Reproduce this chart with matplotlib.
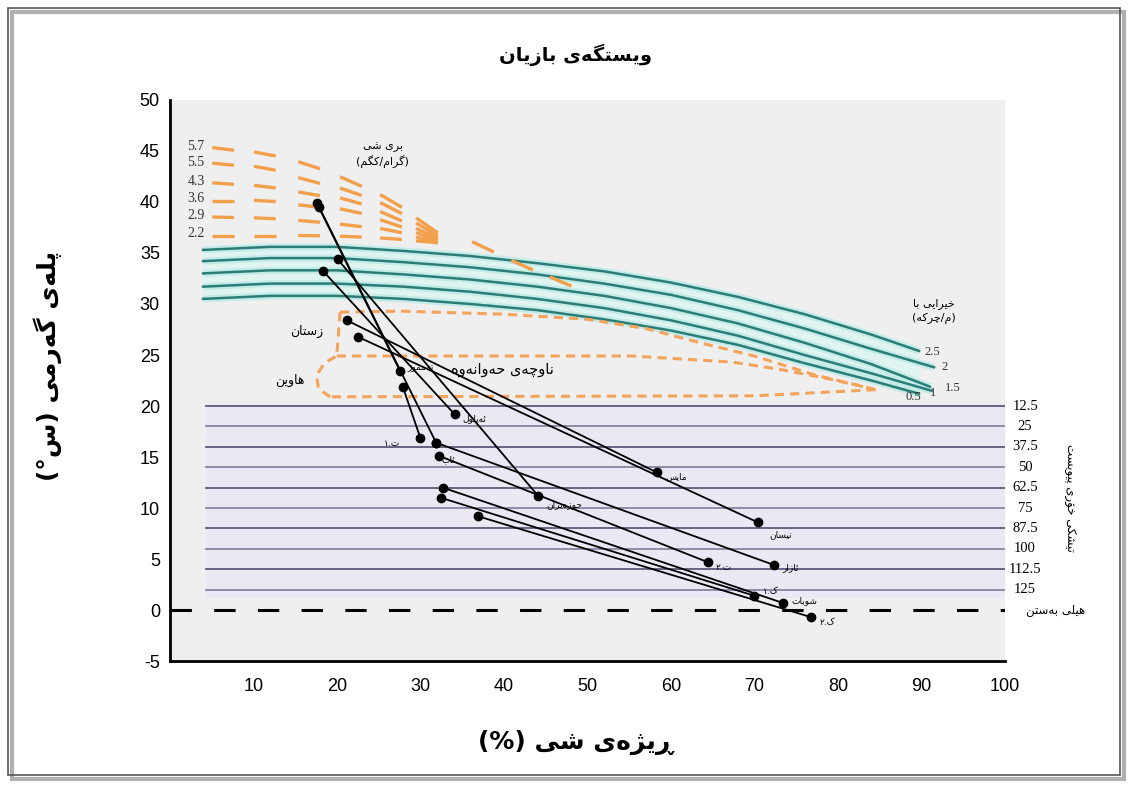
import numpy as np
import matplotlib.pyplot as plt
from matplotlib.patches import Rectangle

plt.rcParams['axes.unicode_minus'] = False

# ---- data ----
# wind speed (evaporative cooling) curves, m/s
wind_labels = ['2.5', '2', '1.5', '1', '0.5']
wind_x = [
    [4, 12, 20, 28, 36, 44, 52, 60, 68, 76, 84, 89.7],
    [4, 12, 20, 28, 36, 44, 52, 60, 68, 76, 84, 91.5],
    [4, 12, 20, 28, 36, 44, 52, 60, 68, 76, 84, 91.0],
    [4, 12, 20, 28, 36, 44, 52, 60, 68, 76, 84, 91.2],
    [4, 12, 20, 28, 36, 44, 52, 60, 68, 76, 84, 89.7],
]
wind_y = [
    [35.3, 35.6, 35.6, 35.2, 34.7, 34.0, 33.2, 32.1, 30.7, 29.0, 27.0, 25.4],
    [34.2, 34.5, 34.5, 34.1, 33.6, 32.9, 32.0, 30.9, 29.4, 27.6, 25.6, 23.8],
    [33.0, 33.3, 33.3, 32.9, 32.4, 31.7, 30.8, 29.6, 28.1, 26.2, 24.1, 21.9],
    [31.7, 32.0, 32.0, 31.7, 31.2, 30.5, 29.6, 28.4, 26.9, 25.0, 23.2, 21.5],
    [30.5, 30.8, 30.8, 30.5, 30.0, 29.4, 28.5, 27.4, 26.0, 24.2, 22.5, 21.2],
]

# moisture needed (g/kg)
moist_labels = ['5.7', '5.5', '4.3', '3.6', '2.9', '2.2']
moist_x = [6.4, 11.4, 16.7, 21.7, 26.5, 30.8]
moist_y = [
    [45.2, 44.7, 43.6, 42.0, 40.1, 37.7],
    [43.7, 43.3, 42.1, 41.0, 39.4, 37.3],
    [41.8, 41.5, 40.8, 40.1, 38.6, 36.9],
    [40.1, 40.1, 39.6, 39.1, 37.9, 36.6],
    [38.5, 38.4, 38.1, 37.7, 37.2, 36.3],
    [36.7, 36.7, 36.7, 36.6, 36.4, 36.1],
]
moist_tail_x = [37.5, 42.2, 46.8]
moist_tail_y = [35.6, 33.8, 32.2]

# radiation needed lines
rad_y = [20, 18, 16, 14, 12, 10, 8, 6, 4, 2]
rad_labels = ['12.5', '25', '37.5', '50', '62.5', '75', '87.5', '100', '112.5', '125']

# comfort zone outline
comfort_top_x = [20.4, 27.6, 40, 50, 57, 63.5, 70, 77.4, 82.6, 84.5]
comfort_top_y = [29.2, 29.3, 29.0, 28.5, 27.6, 26.2, 24.9, 23.0, 22.0, 21.6]
comfort_mid_x = [20.0, 40, 55.4, 67.4, 73, 79.3, 84.5]
comfort_mid_y = [24.9, 24.9, 24.9, 24.3, 23.6, 22.6, 21.6]
comfort_bot_x = [84.5, 70, 19.2]
comfort_bot_y = [21.6, 21.0, 20.9]
summer_arc_x = [19.2, 17.8, 17.6, 18.5, 20.0]
summer_arc_y = [20.9, 21.7, 23.0, 24.2, 24.9]

# monthly lines: (RH at Tmax, Tmax) -> (RH at Tmin, Tmin)
months = ['تەمموز', 'ئاب', 'حوزەیران', 'ئەیلول', 'مایس', 'نیسان',
          'ت.١', 'ئازار', 'ت.٢', 'شوبات', 'ک.١', 'ک.٢']
rh_hi_t = [17.6, 17.9, 20.1, 18.4, 21.2, 22.5, 27.9, 31.9, 32.3, 32.7, 32.5, 36.9]
t_max = [39.9, 39.5, 34.4, 33.2, 28.4, 26.8, 21.9, 16.4, 15.1, 12.0, 11.0, 9.2]
rh_lo_t = [27.6, 31.9, 44.1, 34.1, 58.3, 70.4, 30.0, 72.4, 64.4, 73.4, 70.0, 76.8]
t_min = [23.4, 16.4, 11.2, 19.2, 13.5, 8.6, 16.9, 4.4, 4.7, 0.7, 1.4, -0.7]
label_off = [(5, 3), (4, -12), (6, -6), (6, -3), (6, -3), (8, -9),
             (-26, -4), (6, -2), (6, -4), (6, 2), (6, 3), (6, -4)]

# ---- simple Arabic-script shaping (matplotlib has no shaping/bidi) ----
FORMS = {
    'ا': ('\uFE8D', '\uFE8E', None, None),
    'آ': ('\uFE81', '\uFE82', None, None),
    'ب': ('\uFE8F', '\uFE90', '\uFE91', '\uFE92'),
    'ت': ('\uFE95', '\uFE96', '\uFE97', '\uFE98'),
    'ج': ('\uFE9D', '\uFE9E', '\uFE9F', '\uFEA0'),
    'ح': ('\uFEA1', '\uFEA2', '\uFEA3', '\uFEA4'),
    'خ': ('\uFEA5', '\uFEA6', '\uFEA7', '\uFEA8'),
    'د': ('\uFEA9', '\uFEAA', None, None),
    'ر': ('\uFEAD', '\uFEAE', None, None),
    'ڕ': ('\u0695', '\uFEAE', None, None),
    'ز': ('\uFEAF', '\uFEB0', None, None),
    'ژ': ('\uFB8A', '\uFB8B', None, None),
    'س': ('\uFEB1', '\uFEB2', '\uFEB3', '\uFEB4'),
    'ش': ('\uFEB5', '\uFEB6', '\uFEB7', '\uFEB8'),
    'ع': ('\uFEC9', '\uFECA', '\uFECB', '\uFECC'),
    'ف': ('\uFED1', '\uFED2', '\uFED3', '\uFED4'),
    'ق': ('\uFED5', '\uFED6', '\uFED7', '\uFED8'),
    'ل': ('\uFEDD', '\uFEDE', '\uFEDF', '\uFEE0'),
    'ڵ': ('\u06B5', '\uFEDE', '\uFEDF', '\uFEE0'),
    'م': ('\uFEE1', '\uFEE2', '\uFEE3', '\uFEE4'),
    'ن': ('\uFEE5', '\uFEE6', '\uFEE7', '\uFEE8'),
    'ه': ('\uFEE9', '\uFEEA', '\uFEEB', '\uFEEC'),
    'ە': ('\u06D5', '\uFEEA', None, None),
    'و': ('\uFEED', '\uFEEE', None, None),
    'ۆ': ('\uFBD9', '\uFBDA', None, None),
    'ئ': ('\uFE89', '\uFE8A', '\uFE8B', '\uFE8C'),
    'پ': ('\uFB56', '\uFB57', '\uFB58', '\uFB59'),
    'چ': ('\uFB7A', '\uFB7B', '\uFB7C', '\uFB7D'),
    'ک': ('\uFB8E', '\uFB8F', '\uFB90', '\uFB91'),
    'گ': ('\uFB92', '\uFB93', '\uFB94', '\uFB95'),
    'ی': ('\uFBFC', '\uFBFD', '\uFBFE', '\uFBFF'),
    'ێ': ('\u06CE', '\uFBFD', '\uFBFE', '\uFBFF'),
}
MIRROR = {'(': ')', ')': '('}


def rtl(text):
    lines = []
    for s in text.split('\n'):
        out = []
        for i, c in enumerate(s):
            if c not in FORMS:
                out.append(c)
                continue
            prev = s[i - 1] if i > 0 else ''
            nxt = s[i + 1] if i + 1 < len(s) else ''
            jp = prev in FORMS and FORMS[prev][2] is not None
            jn = FORMS[c][2] is not None and nxt in FORMS
            f = FORMS[c]
            if jp and jn:
                out.append(f[3])
            elif jp:
                out.append(f[1])
            elif jn:
                out.append(f[2])
            else:
                out.append(f[0])
        lines.append(''.join(MIRROR.get(c, c) for c in reversed(out)))
    return '\n'.join(lines)


AR = ['DejaVu Sans']
SERIF = ['Liberation Serif', 'DejaVu Serif']

fig = plt.figure(figsize=(11.28, 7.87), dpi=100)
ax = fig.add_axes([0.1504, 0.160, 0.7406, 0.713])
ax.set_xlim(0, 100)
ax.set_ylim(-5, 50)
ax.set_facecolor('#efefef')

# radiation band
ax.fill_between([4.3, 100], 1.2, 20, color='#ebe7f3', zorder=0.5, lw=0)
for i, (y, lab) in enumerate(zip(rad_y, rad_labels)):
    ax.plot([4.3, 100], [y, y], color='#5f5878' if i % 2 == 0 else '#8a84a0',
            lw=1.3, zorder=1)
    ax.text(102.4, y, lab, ha='center', va='center', fontsize=10.5,
            family=SERIF, clip_on=False)
ax.text(107.8, 11, rtl('تیشکی خۆری پێویست'), rotation=270, ha='center',
        va='center', fontsize=8.5, family=AR, clip_on=False)

# freezing line
ax.plot([0, 100], [0, 0], color='black', lw=2.2, ls=(0, (7, 7.3)), zorder=2)
ax.text(106, 0, rtl('هێڵی بەستن'), ha='center', va='center', fontsize=8.5,
        family=AR, clip_on=False)

# wind curves
poly_x = np.r_[wind_x[0], wind_x[-1][::-1]]
poly_y = np.r_[wind_y[0], wind_y[-1][::-1]]
ax.fill(poly_x, poly_y, color='#e0f4f1', zorder=1, lw=0)
for xs, ys in zip(wind_x, wind_y):
    ax.plot(xs, ys, color='#c3ebe7', lw=5, zorder=2, solid_capstyle='butt')
    ax.plot(xs, ys, color='#2b7d77', lw=1.8, zorder=3)
wind_lab_pos = [(91.3, 25.3), (92.8, 23.8), (93.7, 21.8), (91.4, 21.3), (89.0, 20.9)]
for lab, (lx, ly) in zip(wind_labels, wind_lab_pos):
    ax.text(lx, ly, lab, ha='center', va='center', fontsize=9, family=SERIF,
            color='#333333', zorder=6)
ax.text(91.5, 29.3, rtl('خێرایی با\n(م/چرکە)'), ha='center', va='center',
        fontsize=8, family=AR, linespacing=1.5)

# comfort zone
cz = dict(color='#f3a45a', lw=2.2, ls=(0, (3, 2)), zorder=4)
ax.plot(comfort_top_x, comfort_top_y, **cz)
ax.plot(comfort_mid_x, comfort_mid_y, **cz)
ax.plot(comfort_bot_x, comfort_bot_y, **cz)
ax.plot(summer_arc_x, summer_arc_y, **cz)
ax.plot([comfort_top_x[0], comfort_mid_x[0]], [comfort_top_y[0], comfort_mid_y[0]], **cz)
ax.text(16.4, 27.3, rtl('زستان'), ha='center', va='center', fontsize=9, family=AR)
ax.text(14.4, 22.5, rtl('هاوین'), ha='center', va='center', fontsize=9, family=AR)
ax.text(39.8, 23.6, rtl('ناوچەی حەوانەوە'), ha='center', va='center',
        fontsize=10.5, family=AR, zorder=7)

# moisture dashes
half = 1.3
for lab, ys in zip(moist_labels, moist_y):
    slope = np.gradient(ys, moist_x)
    for x0, y0, s in zip(moist_x, ys, slope):
        ax.plot([x0 - half, x0 + half], [y0 - s * half, y0 + s * half],
                color='#f2a04c', lw=2.4, solid_capstyle='butt', zorder=5)
    ax.text(4.2, ys[0] + 0.2, lab, ha='right', va='center', fontsize=10,
            family=SERIF, color='#333333')
tslope = np.gradient(moist_tail_y, moist_tail_x)
for x0, y0, s in zip(moist_tail_x, moist_tail_y, tslope):
    ax.plot([x0 - half, x0 + half], [y0 - s * half, y0 + s * half],
            color='#f2a04c', lw=2.4, solid_capstyle='butt', zorder=5)
ax.text(25.5, 44.6, rtl('بڕی شێ\n(گرام/کگم)'), ha='center', va='center',
        fontsize=8, family=AR, linespacing=1.3)

# monthly lines
for m, x1, y1, x2, y2, off in zip(months, rh_hi_t, t_max, rh_lo_t, t_min, label_off):
    ax.plot([x1, x2], [y1, y2], color='black', lw=1.3, zorder=8)
    ax.plot([x1, x2], [y1, y2], 'o', color='black', ms=6, zorder=9)
    ax.annotate(rtl(m), (x2, y2), xytext=off, textcoords='offset points',
                ha='left', va='center', fontsize=6.5, family=AR, zorder=9)

# axes styling
for side in ['top', 'right']:
    ax.spines[side].set_visible(False)
for side in ['left', 'bottom']:
    ax.spines[side].set_linewidth(2)
ax.set_xticks(range(10, 101, 10))
ax.set_yticks(range(-5, 51, 5))
ax.tick_params(length=0, labelsize=13)
ax.tick_params(axis='x', pad=12)
ax.tick_params(axis='y', pad=7)
for t in ax.get_xticklabels() + ax.get_yticklabels():
    t.set_family('Liberation Sans')

fig.text(0.51, 0.930, rtl('وێستگەی بازیان'), ha='center', va='center',
         fontsize=14, fontweight='bold', family=AR)
fig.text(0.51, 0.057, rtl('ڕێژەی شێ (%)'), ha='center', va='center',
         fontsize=18, fontweight='bold', family=AR)
fig.text(0.042, 0.535, rtl('پلەی گەرمی (س°)'), ha='center', va='center',
         rotation=90, fontsize=18, fontweight='bold', family=AR)

# outer frame with a soft shadow
fig.add_artist(Rectangle((0.0105, 0.010), 0.986, 0.975, transform=fig.transFigure,
                         fill=False, edgecolor='#b0b0b0', lw=3, zorder=0))
fig.add_artist(Rectangle((0.007, 0.015), 0.986, 0.975, transform=fig.transFigure,
                         fill=False, edgecolor='#555555', lw=1.2, zorder=1))

fig.savefig('out.png', dpi=100)
